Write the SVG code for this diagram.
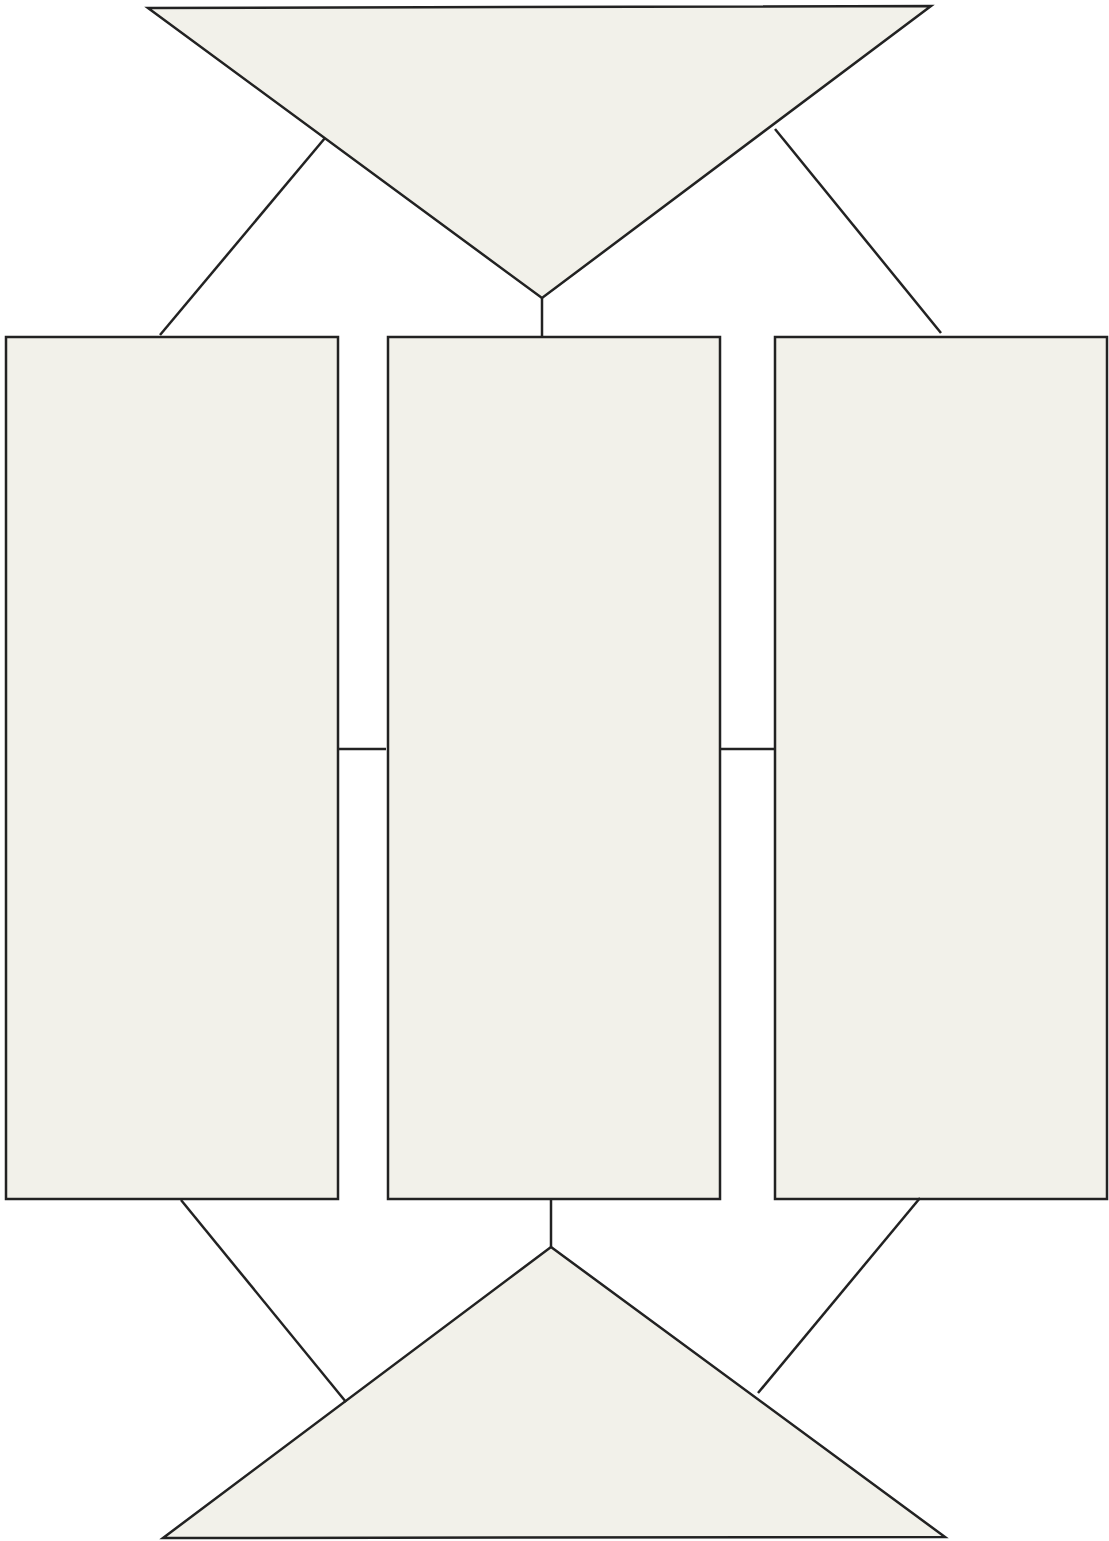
<svg xmlns="http://www.w3.org/2000/svg" width="1109" height="1541" viewBox="0 0 1109 1541">
<style>
.n{fill:#f2f1ea;stroke:#222;stroke-width:2.5;stroke-linejoin:miter}
.c{stroke:#222;stroke-width:2.5;fill:none}
</style>
<rect width="1109" height="1541" fill="#fff"/>
<g id="top"><polygon class="n" points="148,8 931,6 542,298"/></g>
<g id="left"><rect class="n" x="6" y="337" width="332" height="862"/></g>
<g id="middle"><rect class="n" x="388" y="337" width="332" height="862"/></g>
<g id="right"><rect class="n" x="775" y="337" width="332" height="862"/></g>
<g id="bottom"><polygon class="n" points="551,1247 945,1537 163,1538"/></g>
<g id="connectors">
<line class="c" x1="325" y1="138" x2="160" y2="335"/>
<line class="c" x1="775" y1="129" x2="941" y2="333"/>
<line class="c" x1="542" y1="298" x2="542" y2="337"/>
<line class="c" x1="338" y1="749" x2="386" y2="749"/>
<line class="c" x1="720" y1="749" x2="774" y2="749"/>
<line class="c" x1="551" y1="1199" x2="551" y2="1247"/>
<line class="c" x1="181" y1="1200" x2="346" y2="1402"/>
<line class="c" x1="920" y1="1198" x2="758" y2="1393"/>
</g>
</svg>
